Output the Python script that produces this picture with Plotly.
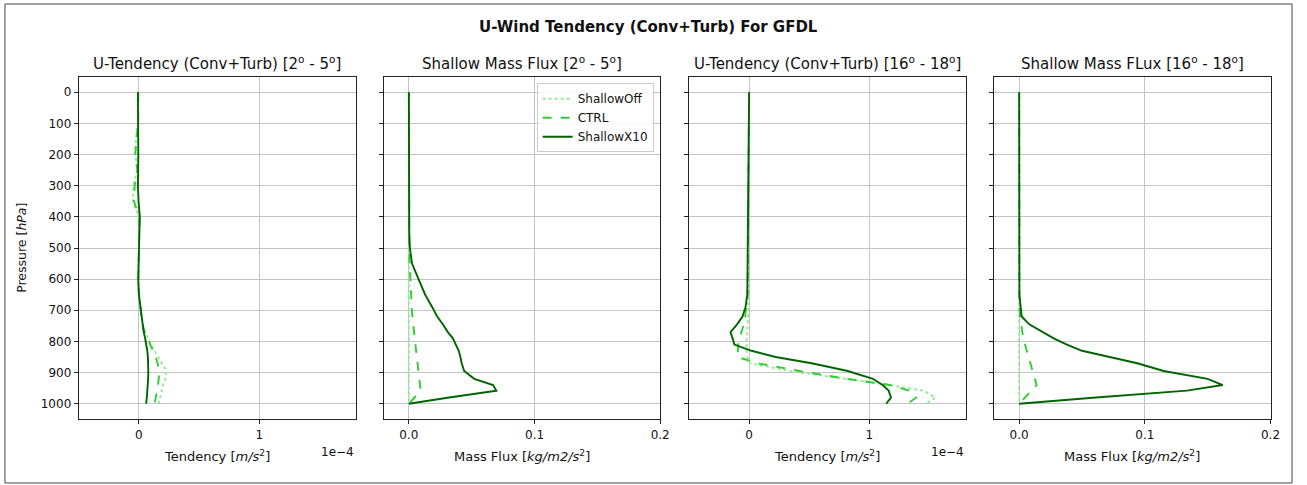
import plotly.graph_objects as go

# Pressure levels (hPa) shared by every profile
pressure = [0, 50, 100, 150, 200, 250, 300, 350, 400, 450,
            500, 550, 600, 650, 690, 720, 745, 770, 790, 810,
            830, 850, 870, 895, 920, 940, 958, 980, 1000]

# U-tendency (Conv+Turb), 2-5 deg, in units of 1e-4 m/s^2
tend_eq_off = [-0.005, -0.005, -0.008, -0.025, -0.03, -0.012, -0.045, -0.05, 0.002, 0.002,
               0.0, -0.003, -0.005, 0.0, 0.012, 0.02, 0.03, 0.05, 0.075, 0.1,
               0.13, 0.16, 0.19, 0.23, 0.22, 0.2, 0.19, 0.175, 0.165]
tend_eq_ctrl = [-0.005, -0.004, -0.005, -0.02, -0.03, -0.012, -0.035, -0.04, 0.003, 0.003,
                0.0, -0.003, -0.005, 0.0, 0.012, 0.02, 0.03, 0.048, 0.07, 0.09,
                0.115, 0.14, 0.155, 0.168, 0.165, 0.16, 0.152, 0.14, 0.13]
tend_eq_x10 = [-0.008, -0.006, -0.005, -0.006, -0.005, -0.006, -0.008, -0.003, 0.008, 0.004,
               0.0, -0.003, -0.005, 0.0, 0.012, 0.02, 0.028, 0.04, 0.052, 0.062,
               0.07, 0.075, 0.078, 0.078, 0.077, 0.075, 0.072, 0.066, 0.06]

# Shallow mass flux, 2-5 deg (kg/m2/s2)
flux_eq_off = [0.0, 0.0, 0.0, 0.0, 0.0, 0.0, 0.0, 0.0, 0.0, 0.0,
               0.0, 0.0, 0.0, 0.0, 0.0, 0.0, 0.0, 0.0, 0.0, 0.0,
               0.0, 0.0, 0.0, 0.0, 0.0, 0.0, 0.0, 0.0, 0.0]
flux_eq_ctrl = [0.0, 0.0, 0.0, 0.0, 0.0, 0.0, 0.0, 0.0, 0.0, 0.0001,
                0.0003, 0.0006, 0.001, 0.0017, 0.0023, 0.0028, 0.0033, 0.004, 0.0047, 0.0052,
                0.0058, 0.0063, 0.0067, 0.0073, 0.0082, 0.0088, 0.0094, 0.0045, 0.0]
flux_eq_x10 = [0.0, 0.0, 0.0, 0.0, 0.0, 0.0, 0.0, 0.0, 0.0001, 0.0003,
               0.0008, 0.0025, 0.0077, 0.013, 0.0186, 0.0225, 0.027, 0.031, 0.035, 0.0375,
               0.0397, 0.041, 0.042, 0.044, 0.052, 0.067, 0.0696, 0.032, 0.0]

# U-tendency (Conv+Turb), 16-18 deg, in units of 1e-4 m/s^2
tend_sub_off = [0.0, -0.001, -0.002, -0.003, -0.003, -0.004, -0.004, -0.005, -0.005, -0.005,
                -0.006, -0.006, -0.006, -0.007, -0.008, -0.008, -0.01, -0.015, -0.02, -0.022,
                -0.022, -0.015, 0.005, 0.34, 0.82, 1.17, 1.45, 1.55, 1.47]
tend_sub_ctrl = [0.0, -0.001, -0.002, -0.003, -0.003, -0.004, -0.004, -0.005, -0.005, -0.006,
                 -0.006, -0.006, -0.007, -0.012, -0.025, -0.032, -0.045, -0.065, -0.078, -0.09,
                 -0.095, -0.097, 0.07, 0.42, 0.81, 1.17, 1.33, 1.39, 1.32]
tend_sub_x10 = [0.0, -0.001, -0.002, -0.003, -0.003, -0.004, -0.005, -0.005, -0.006, -0.007,
                -0.007, -0.008, -0.01, -0.015, -0.03, -0.055, -0.1, -0.155, -0.137, -0.122,
                0.02, 0.22, 0.52, 0.82, 1.03, 1.11, 1.16, 1.18, 1.14]

# Shallow mass flux, 16-18 deg (kg/m2/s2)
flux_sub_off = [0.0, 0.0, 0.0, 0.0, 0.0, 0.0, 0.0, 0.0, 0.0, 0.0,
                0.0, 0.0, 0.0, 0.0, 0.0, 0.0, 0.0, 0.0, 0.0, 0.0,
                0.0, 0.0, 0.0, 0.0, 0.0, 0.0, 0.0, 0.0, 0.0]
flux_sub_ctrl = [0.0, 0.0, 0.0, 0.0, 0.0, 0.0, 0.0, 0.0, 0.0, 0.0,
                 0.0, 0.0, 0.0, 0.0, 0.0001, 0.0008, 0.0015, 0.0025, 0.0035, 0.0045,
                 0.006, 0.0075, 0.009, 0.011, 0.013, 0.0139, 0.0097, 0.0046, 0.0]
flux_sub_x10 = [0.0, 0.0, 0.0, 0.0, 0.0, 0.0, 0.0, 0.0, 0.0, 0.0,
                0.0, 0.0, 0.0, 0.0002, 0.0012, 0.002, 0.008, 0.0188, 0.0275, 0.038,
                0.05, 0.072, 0.094, 0.115, 0.15, 0.162, 0.1335, 0.061, 0.0]

experiments = ["ShallowOff", "CTRL", "ShallowX10"]
panel_titles = ["U-Tendency (Conv+Turb) [2<sup>o</sup> - 5<sup>o</sup>]",
                "Shallow Mass Flux [2<sup>o</sup> - 5<sup>o</sup>]",
                "U-Tendency (Conv+Turb) [16<sup>o</sup> - 18<sup>o</sup>]",
                "Shallow Mass FLux [16<sup>o</sup> - 18<sup>o</sup>]"]
x_titles = ["Tendency [<i>m/s</i><sup>2</sup>]", "Mass Flux [<i>kg/m2/s</i><sup>2</sup>]",
            "Tendency [<i>m/s</i><sup>2</sup>]", "Mass Flux [<i>kg/m2/s</i><sup>2</sup>]"]

panels = [
    [tend_eq_off, tend_eq_ctrl, tend_eq_x10],
    [flux_eq_off, flux_eq_ctrl, flux_eq_x10],
    [tend_sub_off, tend_sub_ctrl, tend_sub_x10],
    [flux_sub_off, flux_sub_ctrl, flux_sub_x10],
]

W, H = 1307, 485
FONT = "DejaVu Sans"
colors = ["#90ee90", "#32cd32", "#006400"]
dashes = ["dot", "dash", "solid"]

# panel boxes in pixels
lefts = [79.3, 386.7, 694.3, 1001.7]
rights = [358.3, 665.3, 973.0, 1280.3]
top_px, bot_px = 76.7, 419.3
ydom = [1 - bot_px / H, 1 - top_px / H]

fig = go.Figure()
for i, series in enumerate(panels):
    n = "" if i == 0 else str(i + 1)
    for j, vals in enumerate(series):
        fig.add_trace(go.Scatter(
            x=vals, y=pressure, mode="lines", name=experiments[j],
            line=dict(color=colors[j], dash=dashes[j], width=1.9),
            xaxis="x" + n, yaxis="y" + n,
            showlegend=(i == 1), legendgroup=experiments[j],
        ))

axis_common = dict(
    showline=True, linecolor="#222", linewidth=1, mirror=True,
    ticks="outside", ticklen=4, tickcolor="#222", tickwidth=1,
    showgrid=True, gridcolor="#c4c4c4", gridwidth=1, zeroline=False,
    tickfont=dict(family=FONT, size=12, color="#111"),
)

layout = dict(
    width=W, height=H, autosize=False,
    margin=dict(l=0, r=0, t=0, b=0),
    paper_bgcolor="white", plot_bgcolor="white",
    font=dict(family=FONT, size=12, color="#111"),
    legend=dict(
        x=658.7 / W, y=1 - 83.3 / H, xanchor="right", yanchor="top",
        bgcolor="rgba(255,255,255,0.85)", bordercolor="#cccccc", borderwidth=1,
        font=dict(family=FONT, size=12, color="#111"), tracegroupgap=0,
    ),
)

for i in range(4):
    n = "" if i == 0 else str(i + 1)
    dom = [lefts[i] / W, rights[i] / W]
    if i in (0, 2):
        xa = dict(range=[-0.5, 1.8], tickvals=[0, 1], ticktext=["0", "1"])
    else:
        xa = dict(range=[-0.02, 0.2], tickvals=[0.0, 0.1, 0.2], ticktext=["0.0", "0.1", "0.2"])
    layout["xaxis" + n] = dict(axis_common, domain=dom, anchor="y" + n, **xa)
    layout["yaxis" + n] = dict(
        axis_common, domain=ydom, anchor="x" + n, range=[1050, -50],
        tickvals=list(range(0, 1001, 100)), showticklabels=(i == 0),
    )

annotations = [
    dict(text="<b>U-Wind Tendency (Conv+Turb) For GFDL</b>", x=0.5, y=1 - 27 / H,
         xref="paper", yref="paper", showarrow=False, xanchor="center", yanchor="middle",
         font=dict(family=FONT, size=15, color="#111")),
    dict(text="Pressure [<i>hPa</i>]", x=22 / W, y=1 - 248 / H, textangle=-90,
         xref="paper", yref="paper", showarrow=False, xanchor="center", yanchor="middle",
         font=dict(family=FONT, size=12.5, color="#111")),
]
for i in range(4):
    cx = (lefts[i] + rights[i]) / 2 / W
    annotations.append(dict(text=panel_titles[i], x=cx, y=1 - 63 / H, xref="paper", yref="paper",
                            showarrow=False, xanchor="center", yanchor="middle",
                            font=dict(family=FONT, size=15, color="#111")))
    annotations.append(dict(text=x_titles[i], x=cx, y=1 - 456 / H, xref="paper", yref="paper",
                            showarrow=False, xanchor="center", yanchor="middle",
                            font=dict(family=FONT, size=13, color="#111")))
    if i in (0, 2):
        annotations.append(dict(text="1e\u22124", x=rights[i] / W, y=1 - 452 / H,
                                xref="paper", yref="paper", showarrow=False,
                                xanchor="right", yanchor="middle",
                                font=dict(family=FONT, size=12, color="#111")))
layout["annotations"] = annotations

# thin frame around the whole figure
layout["shapes"] = [dict(type="rect", xref="paper", yref="paper",
                         x0=5 / W, x1=1302 / W, y0=1 - 483 / H, y1=1 - 4 / H,
                         line=dict(color="#444", width=1))]

fig.update_layout(**layout)
fig.write_html("out.html", config={"responsive": False})
